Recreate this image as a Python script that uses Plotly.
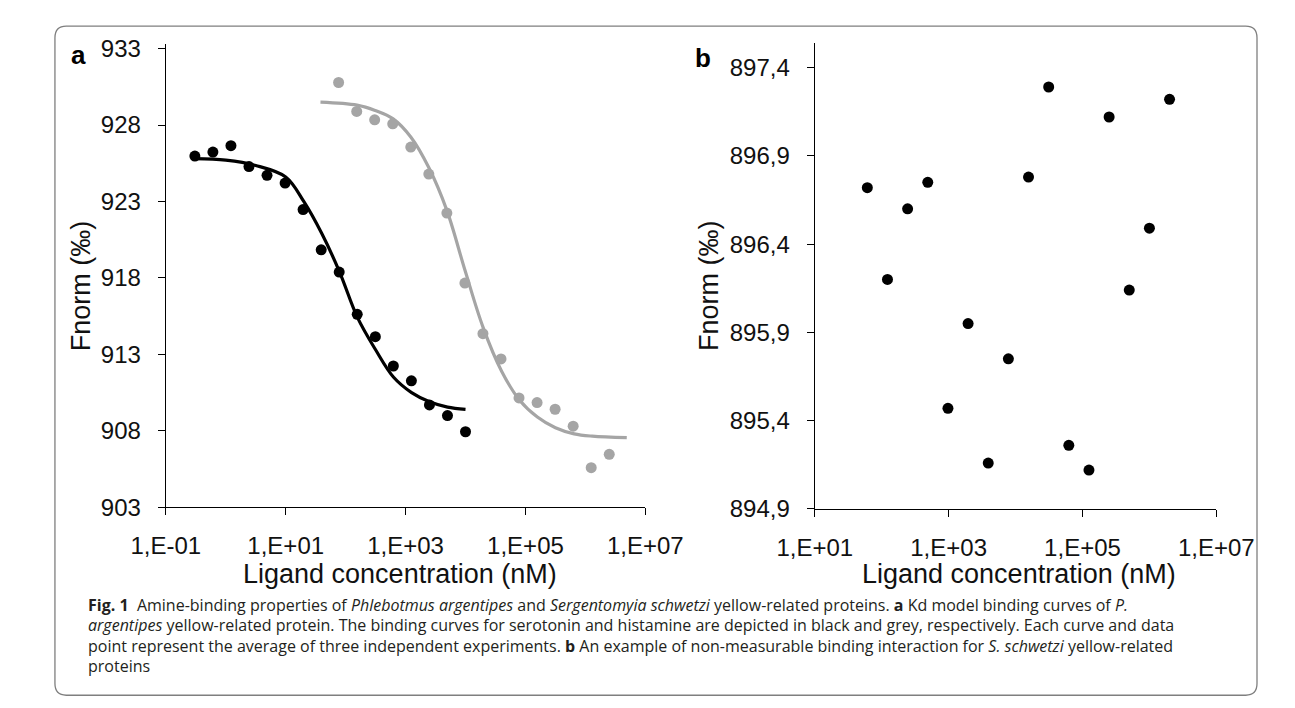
import plotly.graph_objects as go

W, H = 1295, 708

# ---------- Panel a data ----------
serotonin_conc = [0.305, 0.61, 1.22, 2.44, 4.88, 9.77, 19.5, 39.1, 78.1, 156, 313, 625, 1250, 2500, 5000, 10000]
serotonin_fnorm = [925.97, 926.23, 926.65, 925.28, 924.71, 924.2, 922.47, 919.84, 918.38, 915.62, 914.16, 912.24, 911.27, 909.69, 909.0, 907.94]
serotonin_fit_conc = [0.3, 1, 3.16, 10, 20, 40, 79, 158, 316, 631, 1259, 2512, 5012, 10000]
serotonin_fit_fnorm = [925.8, 925.7, 925.35, 924.6, 923.0, 920.9, 918.4, 915.4, 913.3, 911.5, 910.5, 909.9, 909.55, 909.4]

histamine_conc = [76.3, 153, 305, 610, 1221, 2441, 4883, 9766, 19531, 39063, 78125, 156250, 312500, 625000, 1250000, 2500000]
histamine_fnorm = [930.78, 928.89, 928.34, 928.08, 926.56, 924.79, 922.24, 917.66, 914.35, 912.70, 910.15, 909.85, 909.41, 908.30, 905.59, 906.46]
histamine_fit_conc = [38, 155, 310, 620, 1230, 2450, 4900, 9800, 19500, 40000, 80000, 158000, 316000, 650000, 1300000, 4900000]
histamine_fit_fnorm = [929.5, 929.3, 928.95, 928.4, 927.2, 925.2, 922.4, 918.5, 914.8, 911.9, 910.0, 908.9, 908.2, 907.8, 907.65, 907.55]

a_xtick_vals = [0.1, 10, 1000, 100000, 10000000]
a_xtick_text = ["1,E-01", "1,E+01", "1,E+03", "1,E+05", "1,E+07"]
a_ytick_vals = [903, 908, 913, 918, 923, 928, 933]
a_ytick_text = ["903", "908", "913", "918", "923", "928", "933"]

# ---------- Panel b data ----------
b_conc = [61, 122, 244, 488, 977, 1953, 3906, 7813, 15625, 31250, 62500, 125000, 250000, 500000, 1000000, 2000000]
b_fnorm = [896.72, 896.20, 896.60, 896.75, 895.47, 895.95, 895.16, 895.75, 896.78, 897.29, 895.26, 895.12, 897.12, 896.14, 896.49, 897.22]

b_xtick_vals = [10, 1000, 100000, 10000000]
b_xtick_text = ["1,E+01", "1,E+03", "1,E+05", "1,E+07"]
b_ytick_vals = [894.9, 895.4, 895.9, 896.4, 896.9, 897.4]
b_ytick_text = ["894,9", "895,4", "895,9", "896,4", "896,9", "897,4"]

caption_lines = [
    "<b>Fig. 1</b>  Amine-binding properties of <i>Phlebotmus argentipes</i> and <i>Sergentomyia schwetzi</i> yellow-related proteins. <b>a</b> Kd model binding curves of <i>P.</i>",
    "<i>argentipes</i> yellow-related protein. The binding curves for serotonin and histamine are depicted in black and grey, respectively. Each curve and data",
    "point represent the average of three independent experiments. <b>b</b> An example of non-measurable binding interaction for <i>S. schwetzi</i> yellow-related",
    "proteins",
]

BLACK = "#000000"
GREY = "#a5a5a5"
FONT = "Liberation Sans, Arial, sans-serif"
CAP_FONT = "Open Sans, Noto Sans, sans-serif"

def px(x):
    return x / W

def py(y):
    return 1 - y / H

fig = go.Figure()

fig.add_trace(go.Scatter(x=serotonin_fit_conc, y=serotonin_fit_fnorm, mode="lines",
                         line=dict(color=BLACK, width=3.2, shape="spline", smoothing=1.0),
                         xaxis="x", yaxis="y", showlegend=False))
fig.add_trace(go.Scatter(x=histamine_fit_conc, y=histamine_fit_fnorm, mode="lines",
                         line=dict(color=GREY, width=3.2, shape="spline", smoothing=1.0),
                         xaxis="x", yaxis="y", showlegend=False))
fig.add_trace(go.Scatter(x=serotonin_conc, y=serotonin_fnorm, mode="markers",
                         marker=dict(color=BLACK, size=11),
                         xaxis="x", yaxis="y", showlegend=False))
fig.add_trace(go.Scatter(x=histamine_conc, y=histamine_fnorm, mode="markers",
                         marker=dict(color=GREY, size=11),
                         xaxis="x", yaxis="y", showlegend=False))
fig.add_trace(go.Scatter(x=b_conc, y=b_fnorm, mode="markers",
                         marker=dict(color=BLACK, size=11),
                         xaxis="x2", yaxis="y2", showlegend=False))

# Panel geometry (pixels)
a_left, a_right, a_bottom, a_top = 127.3, 636.7, 506.0, 28.3
b_left, b_right, b_bottom, b_top = 816.7, 1243.3, 507.7, 26.7

axis_common = dict(showgrid=False, zeroline=False, showline=True, linecolor="#000000", linewidth=1.3,
                   ticks="outside", ticklen=7, tickwidth=1.3, tickcolor="#000000",
                   tickfont=dict(family=FONT, size=24, color="#111111"))

fig.update_layout(
    width=W, height=H, margin=dict(l=0, r=0, t=0, b=0),
    paper_bgcolor="white", plot_bgcolor="white",
    xaxis=dict(type="log", range=[-1, 7], domain=[px(a_left), px(a_right)], anchor="y",
               tickvals=a_xtick_vals, ticktext=a_xtick_text, ticklabelstandoff=10, **axis_common),
    yaxis=dict(range=[903, 933.27], domain=[py(a_bottom), py(a_top)], anchor="x",
               tickvals=a_ytick_vals, ticktext=a_ytick_text, ticklabelstandoff=12, **axis_common),
    xaxis2=dict(type="log", range=[1, 7], domain=[px(b_left), px(b_right)], anchor="y2",
                tickvals=b_xtick_vals, ticktext=b_xtick_text, ticklabelstandoff=10, **axis_common),
    yaxis2=dict(range=[894.9, 897.54], domain=[py(b_bottom), py(b_top)], anchor="x2",
                tickvals=b_ytick_vals, ticktext=b_ytick_text, ticklabelstandoff=12, **axis_common),
)

ann = []
ann.append(dict(text="<b>a</b>", x=px(35), y=py(39), xref="paper", yref="paper", showarrow=False,
                font=dict(family=FONT, size=26, color="#000"), xanchor="center", yanchor="middle"))
ann.append(dict(text="<b>b</b>", x=px(698), y=py(42), xref="paper", yref="paper", showarrow=False,
                font=dict(family=FONT, size=26, color="#000"), xanchor="center", yanchor="middle"))
for cx in [(a_left + a_right) / 2 - 6, (b_left + b_right) / 2 + 4]:
    ann.append(dict(text="Ligand concentration (nM)", x=px(cx), y=py(575), xref="paper", yref="paper",
                    showarrow=False, font=dict(family=FONT, size=27, color="#111"),
                    xanchor="center", yanchor="middle"))
for cx in [38, 705]:
    ann.append(dict(text="Fnorm (‰)", x=px(cx), y=py(277), xref="paper", yref="paper", textangle=-90,
                    showarrow=False, font=dict(family=FONT, size=27, color="#111"),
                    xanchor="center", yanchor="middle"))
cap_y = [607, 628, 649, 670]
for t, yy in zip(caption_lines, cap_y):
    ann.append(dict(text=t, x=px(43), y=py(yy), xref="paper", yref="paper", showarrow=False,
                    font=dict(family=CAP_FONT, size=16, color="#231f20"),
                    xanchor="left", yanchor="middle", align="left"))
fig.update_layout(annotations=ann)

# Rounded border frame
L, R, T, B, r = 9.5, 1286.5, 9.5, 700.0, 12
path = (f"M {px(L + r)},{py(T)} L {px(R - r)},{py(T)} Q {px(R)},{py(T)} {px(R)},{py(T + r)} "
        f"L {px(R)},{py(B - r)} Q {px(R)},{py(B)} {px(R - r)},{py(B)} "
        f"L {px(L + r)},{py(B)} Q {px(L)},{py(B)} {px(L)},{py(B - r)} "
        f"L {px(L)},{py(T + r)} Q {px(L)},{py(T)} {px(L + r)},{py(T)} Z")
fig.add_shape(type="path", path=path, xref="paper", yref="paper",
              line=dict(color="#7f7f7f", width=1.3), fillcolor="rgba(0,0,0,0)")

fig.write_html("out.html")
